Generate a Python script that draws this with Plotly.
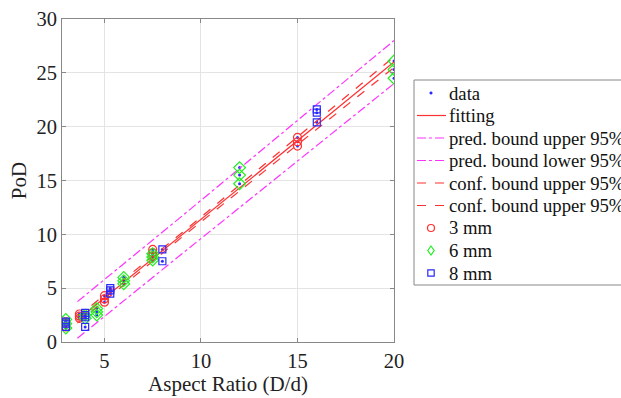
import plotly.graph_objects as go

# ---- data ----
ar_3mm = [3.0, 3.0, 3.0, 3.7, 3.7, 3.7, 5.0, 5.0, 5.0, 7.5, 7.5, 7.5, 15.0, 15.0, 15.0]
pod_3mm = [1.4, 1.7, 1.9, 2.2, 2.4, 2.6, 3.7, 4.0, 4.3, 8.0, 8.3, 8.6, 18.2, 18.6, 19.0]

ar_6mm = [3.0, 3.0, 3.0, 4.0, 4.0, 4.6, 4.6, 4.6, 6.0, 6.0, 6.0, 7.5, 7.5, 7.5, 12.0, 12.0, 12.0, 20.0, 20.0, 20.0]
pod_6mm = [1.3, 1.7, 2.1, 2.2, 2.5, 2.5, 2.8, 3.1, 5.4, 5.7, 6.0, 7.6, 7.9, 8.2, 14.7, 15.5, 16.2, 24.5, 25.3, 26.1]

ar_8mm = [3.0, 3.0, 3.0, 4.0, 4.0, 4.0, 4.0, 5.3, 5.3, 5.3, 8.0, 8.0, 16.0, 16.0, 16.0]
pod_8mm = [1.4, 1.7, 1.9, 1.4, 2.3, 2.5, 2.7, 4.5, 4.8, 5.0, 7.5, 8.6, 20.4, 21.3, 21.6]

fit_x = [3.6, 9.0, 20.0]
fit_y = [2.05, 9.92, 26.0]
pred_upper = [3.75, 11.67, 28.0]
pred_lower = [0.35, 8.17, 24.0]
conf_upper = [2.35, 10.12, 26.5]
conf_lower = [1.75, 9.72, 25.5]

x_ticks = [5, 10, 15, 20]
y_ticks = [0, 5, 10, 15, 20, 25, 30]

legend_labels = ["data", "fitting", "pred. bound upper 95%", "pred. bound lower 95%",
                 "conf. bound upper 95%", "conf. bound upper 95%", "3 mm", "6 mm", "8 mm"]

RED = "#ff3030"
MAG = "#ff33ff"
GREEN = "#22ee22"
BLUE = "#2a2aff"
FONT = "Liberation Serif"

W, H = 621, 398
ML, MR, MT, MB = 62, 227, 19, 56
PW, PH = W - ML - MR, H - MT - MB

def px(x):
    return (x - ML) / PW

def py(y):
    return (H - MB - y) / PH

all_x = ar_3mm + ar_6mm + ar_8mm
all_y = pod_3mm + pod_6mm + pod_8mm

fig = go.Figure()
fig.add_trace(go.Scatter(x=all_x, y=all_y, mode="markers", name="data",
                         marker=dict(color=BLUE, size=3, symbol="circle")))
fig.add_trace(go.Scatter(x=fit_x, y=fit_y, mode="lines", name="fitting",
                         line=dict(color=RED, width=1.2)))
fig.add_trace(go.Scatter(x=fit_x, y=pred_upper, mode="lines", name="pred. bound upper 95%",
                         line=dict(color=MAG, width=1.2, dash="dashdot")))
fig.add_trace(go.Scatter(x=fit_x, y=pred_lower, mode="lines", name="pred. bound lower 95%",
                         line=dict(color=MAG, width=1.2, dash="dashdot")))
fig.add_trace(go.Scatter(x=fit_x, y=conf_upper, mode="lines", name="conf. bound upper 95%",
                         line=dict(color=RED, width=1.2, dash="dash")))
fig.add_trace(go.Scatter(x=fit_x, y=conf_lower, mode="lines", name="conf. bound upper 95%",
                         line=dict(color=RED, width=1.2, dash="dash")))
fig.add_trace(go.Scatter(x=ar_3mm, y=pod_3mm, mode="markers", name="3 mm",
                         marker=dict(symbol="circle-open", color=RED, size=8, line=dict(width=1.2))))
fig.add_trace(go.Scatter(x=ar_6mm, y=pod_6mm, mode="markers", name="6 mm",
                         marker=dict(symbol="diamond-open", color=GREEN, size=9, line=dict(width=1.2))))
fig.add_trace(go.Scatter(x=ar_8mm, y=pod_8mm, mode="markers", name="8 mm",
                         marker=dict(symbol="square-open", color=BLUE, size=7, line=dict(width=1.2))))

# ---- manual legend (MATLAB-like compact layout) ----
shapes = []
annotations = []
box_l, box_t, box_b = 414, 80, 285
shapes.append(dict(type="rect", xref="paper", yref="paper",
                   x0=px(box_l), x1=px(W + 20), y0=py(box_b), y1=py(box_t),
                   line=dict(color="#888888", width=1), fillcolor="white", layer="above"))
row0, step = 93, 22.5
sx0, sx1, sxc, tx = 417, 446, 431, 447
line_styles = {1: (RED, "solid"), 2: (MAG, "dashdot"), 3: (MAG, "dashdot"),
               4: (RED, "dash"), 5: (RED, "dash")}
for i, lab in enumerate(legend_labels):
    yc = row0 + i * step
    if i in line_styles:
        col, dsh = line_styles[i]
        shapes.append(dict(type="line", xref="paper", yref="paper",
                           x0=px(sx0), x1=px(sx1), y0=py(yc), y1=py(yc),
                           line=dict(color=col, width=1.2, dash=dsh), layer="above"))
    elif i == 0:
        shapes.append(dict(type="circle", xref="paper", yref="paper",
                           x0=px(sxc - 1.3), x1=px(sxc + 1.3), y0=py(yc + 1.3), y1=py(yc - 1.3),
                           line=dict(color=BLUE, width=0.5), fillcolor=BLUE, layer="above"))
    elif i == 6:
        shapes.append(dict(type="circle", xref="paper", yref="paper",
                           x0=px(sxc - 3.5), x1=px(sxc + 3.5), y0=py(yc + 3.5), y1=py(yc - 3.5),
                           line=dict(color=RED, width=1.2), layer="above"))
    elif i == 7:
        path = "M {} {} L {} {} L {} {} L {} {} Z".format(
            px(sxc), py(yc - 4.5), px(sxc + 3.2), py(yc), px(sxc), py(yc + 4.5), px(sxc - 3.2), py(yc))
        shapes.append(dict(type="path", xref="paper", yref="paper", path=path,
                           line=dict(color=GREEN, width=1.2), layer="above"))
    elif i == 8:
        shapes.append(dict(type="rect", xref="paper", yref="paper",
                           x0=px(sxc - 3.2), x1=px(sxc + 3.2), y0=py(yc + 3.2), y1=py(yc - 3.2),
                           line=dict(color=BLUE, width=1.2), layer="above"))
    annotations.append(dict(text=lab, xref="paper", yref="paper", x=px(tx), y=py(yc),
                            xanchor="left", yanchor="middle", showarrow=False,
                            font=dict(family=FONT, size=18.7, color="#111111")))

axis_common = dict(
    showline=True, linecolor="#888888", linewidth=1, mirror="ticks",
    ticks="inside", ticklen=4, tickcolor="#888888",
    showgrid=True, gridcolor="#e4e4e4", gridwidth=1, zeroline=False,
    tickfont=dict(family=FONT, size=20.5, color="#222222"),
)

fig.update_layout(
    width=W, height=H,
    margin=dict(l=ML, r=MR, t=MT, b=MB, autoexpand=False),
    paper_bgcolor="white", plot_bgcolor="white",
    font=dict(family=FONT, size=20, color="#222222"),
    xaxis=dict(range=[2.8, 20], tickvals=x_ticks,
               title=dict(text="Aspect Ratio (D/d)", font=dict(family=FONT, size=21), standoff=2),
               **axis_common),
    yaxis=dict(range=[0, 30], tickvals=y_ticks,
               title=dict(text="PoD", font=dict(family=FONT, size=21), standoff=4),
               **axis_common),
    showlegend=False,
    shapes=shapes,
    annotations=annotations,
)

fig.write_html("out.html")
